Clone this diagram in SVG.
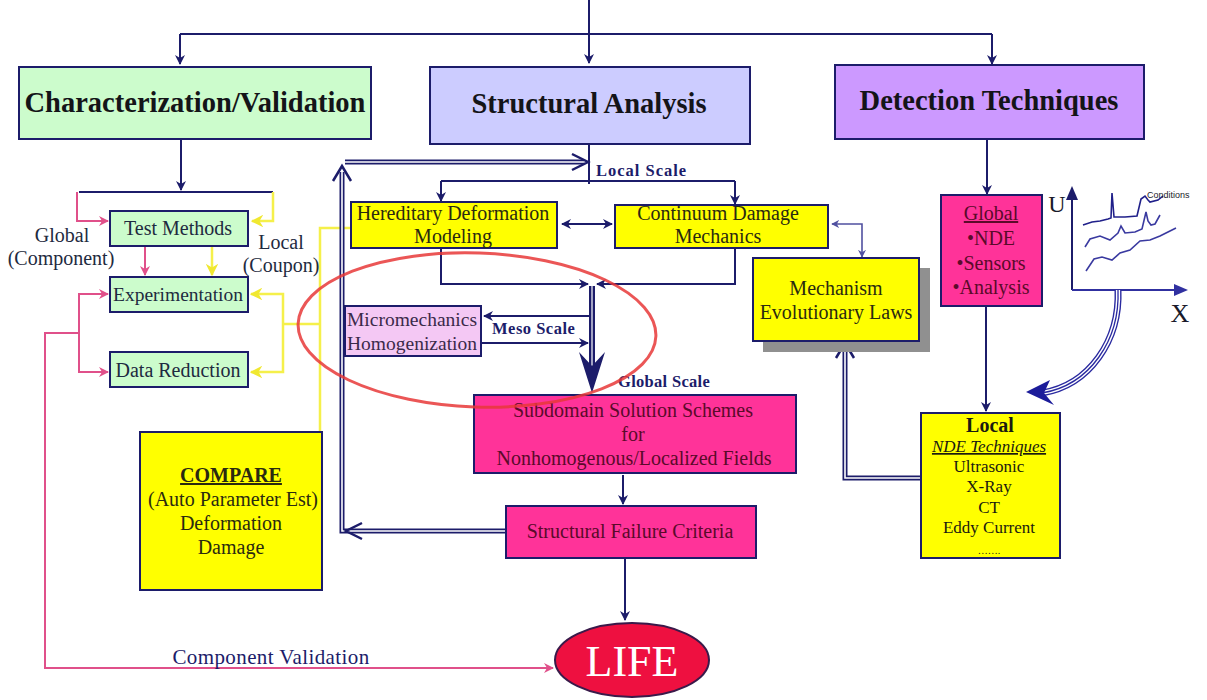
<svg xmlns="http://www.w3.org/2000/svg" width="1207" height="700" viewBox="0 0 1207 700">
<defs>
<style>
.box{stroke:#1c1c6a;stroke-width:2}
.t{text-anchor:middle}
.title{fill:#141418}
.n{fill:#1e2a40}
.y{fill:#2a2a10}
.p{fill:#5a0a2a}
.lab{fill:#1c1c6a}
.ln{fill:none;stroke:#1c1c6a;stroke-width:2}
.pk{fill:none;stroke:#e0508a;stroke-width:2}
.yl{fill:none;stroke:#f5f04a;stroke-width:2.5}
.dbl{fill:none;stroke:#1c1c6a;stroke-width:5}
.dblw{fill:none;stroke:#ffffff;stroke-width:1.6}
</style>
<marker id="an" viewBox="0 0 10 10" refX="9" refY="5" markerWidth="5" markerHeight="5" orient="auto-start-reverse"><path d="M0,0 L10,5 L0,10 L3,5 z" fill="#1c1c6a"/></marker>
<marker id="al" viewBox="0 0 10 10" refX="9" refY="5" markerWidth="5" markerHeight="5" orient="auto-start-reverse"><path d="M0,0 L10,5 L0,10 L3,5 z" fill="#5050a0"/></marker>
<marker id="ap" viewBox="0 0 10 10" refX="9" refY="5" markerWidth="5" markerHeight="5" orient="auto"><path d="M0,0 L10,5 L0,10 L3,5 z" fill="#e0508a"/></marker>
<marker id="ay" viewBox="0 0 10 10" refX="9" refY="5" markerWidth="5" markerHeight="5" orient="auto"><path d="M0,0 L10,5 L0,10 L3,5 z" fill="#f0e830"/></marker>
</defs>
<rect width="1207" height="700" fill="#ffffff"/>

<g id="connectors">
<path class="ln" d="M589,0 V63" marker-end="url(#an)"/>
<path class="ln" d="M180,34 H992"/>
<path class="ln" d="M180,34 V64" marker-end="url(#an)"/>
<path class="ln" d="M992,34 V64" marker-end="url(#an)"/>
<path class="ln" d="M181,140 V190" marker-end="url(#an)"/>
<path class="ln" d="M79,192 H273"/>
<path class="pk" d="M77,192 V221 H108" marker-end="url(#ap)"/>
<path class="yl" d="M273,192 V221 H252" marker-end="url(#ay)"/>
<path class="pk" d="M145,247 V275" marker-end="url(#ap)"/>
<path class="yl" d="M212,247 V275" marker-end="url(#ay)"/>
<path class="pk" d="M79,333 V294 H108" marker-end="url(#ap)"/>
<path class="pk" d="M79,333 V372 H108" marker-end="url(#ap)"/>
<path class="pk" d="M79,333 H45 V668 H553" marker-end="url(#ap)"/>
<path class="yl" d="M283,324 V294 H251" marker-end="url(#ay)"/>
<path class="yl" d="M283,324 V372 H251" marker-end="url(#ay)"/>
<path class="yl" d="M283,324 H320"/>
<path class="yl" d="M320,432 V228 H350"/>
<path class="dbl" d="M505,531 H342 V172"/>
<path class="dblw" d="M505,531 H342 V172"/>
<path class="dbl" d="M345,162 H584"/>
<path class="dblw" d="M345,162 H584"/>
<path d="M333,181 L342,166 L351,181" fill="none" stroke="#1c1c6a" stroke-width="2.5"/>
<path d="M572,154 L588,162 L572,170" fill="none" stroke="#1c1c6a" stroke-width="2.5"/>
<path d="M362,523 L346,531 L362,539" fill="none" stroke="#1c1c6a" stroke-width="2.5"/>
<path class="ln" d="M589,144 V184"/>
<path class="ln" d="M441,181 H735"/>
<path class="ln" d="M441,181 V201" marker-end="url(#an)"/>
<path class="ln" d="M735,181 V204" marker-end="url(#an)"/>
<path class="ln" d="M562,224 H612" marker-start="url(#an)" marker-end="url(#an)"/>
<path class="ln" d="M441,249 V284 H588" marker-end="url(#an)"/>
<path class="ln" d="M735,249 V284 H597" marker-end="url(#an)"/>
<path d="M592,286 V372" fill="none" stroke="#1c1c6a" stroke-width="6"/>
<path d="M592,286 V368" fill="none" stroke="#ffffff" stroke-width="1.2"/>
<path d="M592,393 L579,352 L592,366 L605,352 z" fill="#1c1c6a"/>
<path class="ln" d="M589,316 H484" marker-end="url(#an)"/>
<path class="ln" d="M482,343 H588" marker-end="url(#an)"/>
<path class="ln" d="M623,475 V504" marker-end="url(#an)"/>
<path class="ln" d="M625,559 V620" marker-end="url(#an)"/>
<path d="M832,224 H862 V257" fill="none" stroke="#5050a0" stroke-width="1.6" marker-start="url(#al)" marker-end="url(#al)"/>
<path class="dbl" d="M921,478 H845 V350"/>
<path class="dblw" d="M921,478 H845 V350"/>
<path d="M836,358 L845,343 L854,358" fill="none" stroke="#1c1c6a" stroke-width="2.5"/>
<path class="ln" d="M987,140 V194" marker-end="url(#an)"/>
<path class="ln" d="M986,307 V411" stroke-width="1.6" marker-end="url(#an)"/>
<path d="M1072,290 V194" fill="none" stroke="#1c1c6a" stroke-width="2"/>
<path d="M1066,200 L1072,186 L1078,200 z" fill="#1c1c6a"/>
<path d="M1072,290 H1180" fill="none" stroke="#3030a0" stroke-width="2"/>
<path d="M1174,284 L1188,290 L1174,296 z" fill="#3030a0"/>
<path d="M1083,225 L1092,222 L1100,221 L1108,219 L1111,218 L1112,193 L1114,217 L1125,217 L1137,216 L1141,199 L1145,196 L1148,200 L1150,202 L1158,200 L1163,196" fill="none" stroke="#20208a" stroke-width="1.6"/>
<path d="M1085,247 L1090,239 L1100,236 L1110,240 L1118,233 L1121,226 L1125,233 L1135,232 L1142,229 L1146,212 L1148,221 L1151,225 L1155,224 L1160,215" fill="none" stroke="#3a3aa0" stroke-width="1.6"/>
<path d="M1086,271 L1094,259 L1102,257 L1112,260 L1120,253 L1130,250 L1140,241 L1150,240 L1160,236 L1168,232 L1176,228" fill="none" stroke="#3a3aa0" stroke-width="1.6"/>
<path d="M1118,290 C1120,340 1090,385 1042,393" fill="none" stroke="#2a2aa0" stroke-width="7"/>
<path d="M1118,290 C1120,340 1090,385 1042,393" fill="none" stroke="#ffffff" stroke-width="4.2"/>
<path d="M1118,290 C1120,340 1090,385 1042,393" fill="none" stroke="#2a2aa0" stroke-width="1.3"/>
<path d="M1026,392 L1050,380 L1044,393 L1054,405 z" fill="#1c1c9a"/>
</g>

<g font-family="Liberation Serif, serif">
<g id="characterization">
<rect class="box" x="19" y="67" width="352" height="72" fill="#ccfccc"/>
<text class="t title" x="195" y="112" font-family="Liberation Serif, serif" font-size="28.5" font-weight="bold">Characterization/Validation</text>
</g>
<g id="structural-analysis">
<rect class="box" x="430" y="67" width="320" height="77" fill="#ccccff"/>
<text class="t title" x="589" y="113" font-family="Liberation Serif, serif" font-size="28.5" font-weight="bold">Structural Analysis</text>
</g>
<g id="detection">
<rect class="box" x="835" y="65" width="309" height="74" fill="#cc99ff"/>
<text class="t title" x="989" y="110" font-family="Liberation Serif, serif" font-size="28.5" font-weight="bold">Detection Techniques</text>
</g>

<g id="test-methods">
<rect class="box" x="110" y="211" width="138" height="35" fill="#ccfccc"/>
<text class="t n" x="178" y="235" font-family="Liberation Serif, serif" font-size="20">Test Methods</text>
</g>
<g id="experimentation">
<rect class="box" x="110" y="277" width="138" height="35" fill="#ccfccc"/>
<text class="t n" x="178" y="301" font-family="Liberation Serif, serif" font-size="19.5">Experimentation</text>
</g>
<g id="data-reduction">
<rect class="box" x="110" y="352" width="138" height="35" fill="#ccfccc"/>
<text class="t n" x="178" y="377" font-family="Liberation Serif, serif" font-size="20">Data Reduction</text>
</g>
<g id="label-global">
<text class="t n" x="62" y="242" font-family="Liberation Serif, serif" font-size="20">Global</text>
<text class="t n" x="61" y="265" font-family="Liberation Serif, serif" font-size="20">(Component)</text>
</g>
<g id="label-local">
<text class="t n" x="281" y="249" font-family="Liberation Serif, serif" font-size="20">Local</text>
<text class="t n" x="281" y="272" font-family="Liberation Serif, serif" font-size="20">(Coupon)</text>
</g>

<g id="compare">
<rect class="box" x="140" y="432" width="182" height="158" fill="#ffff00"/>
<text class="t y" x="231" y="482" font-family="Liberation Serif, serif" font-size="20" font-weight="bold" text-decoration="underline">COMPARE</text>
<text class="t y" x="233" y="506" font-family="Liberation Serif, serif" font-size="20">(Auto Parameter  Est)</text>
<text class="t y" x="231" y="530" font-family="Liberation Serif, serif" font-size="20">Deformation</text>
<text class="t y" x="231" y="554" font-family="Liberation Serif, serif" font-size="20">Damage</text>
</g>

<g id="hereditary">
<rect class="box" x="351" y="202" width="206" height="46" fill="#ffff00"/>
<text class="t y" x="453" y="220" font-family="Liberation Serif, serif" font-size="20">Hereditary Deformation</text>
<text class="t y" x="453" y="243" font-family="Liberation Serif, serif" font-size="20">Modeling</text>
</g>
<g id="continuum">
<rect class="box" x="615" y="205" width="213" height="43" fill="#ffff00"/>
<text class="t y" x="718" y="220" font-family="Liberation Serif, serif" font-size="20">Continuum Damage</text>
<text class="t y" x="718" y="243" font-family="Liberation Serif, serif" font-size="20">Mechanics</text>
</g>
<g id="local-scale-label"><text class="lab" x="596" y="176" font-family="Liberation Serif, serif" font-size="16.5" font-weight="bold" letter-spacing="1">Local Scale</text></g>
<g id="micromechanics">
<rect class="box" x="345" y="306" width="136" height="50" fill="#f4c8f4"/>
<text class="t" x="412" y="326" font-family="Liberation Serif, serif" font-size="19.5" fill="#3a2a4a">Micromechanics</text>
<text class="t" x="412" y="350" font-family="Liberation Serif, serif" font-size="19.5" fill="#3a2a4a">Homogenization</text>
</g>
<g id="meso-scale-label"><text class="lab" x="492" y="334" font-family="Liberation Serif, serif" font-size="16.5" font-weight="bold" letter-spacing="0.5">Meso Scale</text></g>
<g id="global-scale-label"><text class="lab" x="618" y="387" font-family="Liberation Serif, serif" font-size="16.5" font-weight="bold" letter-spacing="0.3">Global Scale</text></g>

<g id="subdomain">
<rect class="box" x="474" y="395" width="322" height="78" fill="#ff3399"/>
<text class="t p" x="633" y="417" font-family="Liberation Serif, serif" font-size="20">Subdomain  Solution  Schemes</text>
<text class="t p" x="633" y="441" font-family="Liberation Serif, serif" font-size="20">for</text>
<text class="t p" x="634" y="465" font-family="Liberation Serif, serif" font-size="20">Nonhomogenous/Localized  Fields</text>
</g>
<g id="failure">
<rect class="box" x="506" y="506" width="250" height="52" fill="#ff3399"/>
<text class="t p" x="630" y="538" font-family="Liberation Serif, serif" font-size="20">Structural  Failure  Criteria</text>
</g>
<g id="life">
<ellipse cx="632" cy="660" rx="77" ry="37" fill="#ee1040" stroke="#3a1a4a" stroke-width="2"/>
<text class="t" x="632" y="676" font-family="Liberation Serif, serif" font-size="44" fill="#ffffff">LIFE</text>
</g>
<g id="component-validation-label">
<text class="t" x="271" y="664" font-family="Liberation Serif, serif" font-size="21" letter-spacing="0.4" fill="#1c1c6a">Component Validation</text>
</g>

<g id="mechanism">
<rect x="763" y="268" width="167" height="84" fill="#909090"/>
<rect class="box" x="753" y="258" width="166" height="83" fill="#ffff00"/>
<text class="t y" x="836" y="295" font-family="Liberation Serif, serif" font-size="20">Mechanism</text>
<text class="t y" x="836" y="319" font-family="Liberation Serif, serif" font-size="20">Evolutionary Laws</text>
</g>

<g id="global-nde">
<rect class="box" x="941" y="195" width="101" height="111" fill="#ff3399"/>
<text class="t p" x="991" y="220" font-family="Liberation Serif, serif" font-size="20" text-decoration="underline">Global</text>
<text class="t p" x="991" y="245" font-family="Liberation Serif, serif" font-size="20">•NDE</text>
<text class="t p" x="991" y="270" font-family="Liberation Serif, serif" font-size="20">•Sensors</text>
<text class="t p" x="991" y="294" font-family="Liberation Serif, serif" font-size="20">•Analysis</text>
</g>

<g id="local-nde">
<rect class="box" x="921" y="413" width="139" height="145" fill="#ffff00"/>
<text class="t" x="990" y="432" font-family="Liberation Serif, serif" font-size="20" font-weight="bold" fill="#1a1a10">Local</text>
<text class="t" x="989" y="452" font-family="Liberation Serif, serif" font-size="17" font-style="italic" text-decoration="underline" fill="#1a1a10">NDE Techniques</text>
<text class="t" x="989" y="472" font-family="Liberation Serif, serif" font-size="17" fill="#1a1a10">Ultrasonic</text>
<text class="t" x="989" y="492" font-family="Liberation Serif, serif" font-size="17" fill="#1a1a10">X-Ray</text>
<text class="t" x="989" y="513" font-family="Liberation Serif, serif" font-size="17" fill="#1a1a10">CT</text>
<text class="t" x="989" y="533" font-family="Liberation Serif, serif" font-size="17" fill="#1a1a10">Eddy Current</text>
<text class="t" x="989" y="554" font-family="Liberation Serif, serif" font-size="10" fill="#1a1a10">…….</text>
</g>

<g id="chart-labels">
<text class="t" x="1057" y="212" font-family="Liberation Serif, serif" font-size="24" fill="#1a1a2a">U</text>
<text class="t" x="1180" y="322" font-family="Liberation Serif, serif" font-size="26" fill="#1a1a2a">X</text>
<text x="1147" y="198" font-family="Liberation Sans, sans-serif" font-size="9" fill="#1a1a2a">Conditions</text>
</g>
</g>

<g id="highlight">
<ellipse cx="477" cy="330" rx="179" ry="77" transform="rotate(2 477 330)" fill="none" stroke="#e83838" stroke-width="3" stroke-opacity="0.85"/>
</g>
</svg>
